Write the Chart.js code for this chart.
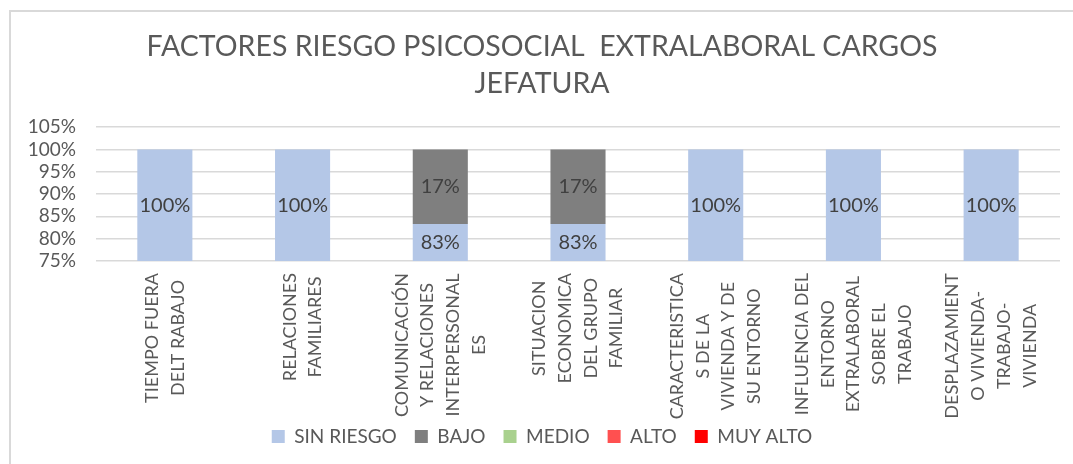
<!DOCTYPE html>
<html>
<head>
<meta charset="utf-8">
<script src="https://cdn.jsdelivr.net/npm/chart.js@4.4.1/dist/chart.umd.min.js"></script>
<style>
  body { margin: 0; background: #fff; overflow: hidden; }
  #frame { position: absolute; left: 9px; top: 10px; width: 1100px; height: 500px; border: 2px solid #d9d9d9; }
  #wrap { position: absolute; left: 0; top: 0; width: 1073px; height: 464px; }
</style>
</head>
<body>
<div id="frame"></div>
<div id="wrap"><canvas id="riesgoChart"></canvas></div>
<script>
// categories (each one already split in lines like the original)
const categories = [
    ['TIEMPO FUERA', 'DELT RABAJO'],
    ['RELACIONES', 'FAMILIARES'],
    ['COMUNICACIÓN', 'Y RELACIONES', 'INTERPERSONAL', 'ES'],
    ['SITUACION', 'ECONOMICA', 'DEL GRUPO', 'FAMILIAR'],
    ['CARACTERISTICA', 'S DE LA', 'VIVIENDA Y DE', 'SU ENTORNO'],
    ['INFLUENCIA DEL', 'ENTORNO', 'EXTRALABORAL', 'SOBRE EL', 'TRABAJO'],
    ['DESPLAZAMIENT', 'O VIVIENDA-', 'TRABAJO-', 'VIVIENDA']
];
const sinRiesgo = [100, 100, 83.3, 83.3, 100, 100, 100];
const bajo      = [0, 0, 16.7, 16.7, 0, 0, 0];
const medio     = [0, 0, 0, 0, 0, 0, 0];
const alto      = [0, 0, 0, 0, 0, 0, 0];
const muyAlto   = [0, 0, 0, 0, 0, 0, 0];
const yMin = 75, yMax = 105, yStep = 5;

const FONT = 'Lato';
const TEXT = '#595959';

// labels inside the bars, centred on the visible part
const barLabels = {
    id: 'barLabels',
    afterDatasetsDraw(chart) {
        const ctx = chart.ctx;
        const area = chart.chartArea;
        ctx.save();
        ctx.font = '20px ' + FONT;
        ctx.fillStyle = '#404040';
        ctx.textAlign = 'center';
        ctx.textBaseline = 'middle';
        chart.data.datasets.forEach((ds, i) => {
            chart.getDatasetMeta(i).data.forEach((bar, j) => {
                const v = ds.data[j];
                if (!v) return;
                const top = Math.max(Math.min(bar.y, bar.base), area.top);
                const bottom = Math.min(Math.max(bar.y, bar.base), area.bottom);
                ctx.fillText(Math.round(v) + '%', bar.x, (top + bottom) / 2);
            });
        });
        ctx.restore();
    }
};

// vertical category labels, lines centred inside each block
const xLabels = {
    id: 'xLabels',
    afterDraw(chart) {
        const ctx = chart.ctx;
        const xScale = chart.scales.x;
        const yTop = chart.chartArea.bottom + 12;
        const lineGap = 25.7;
        ctx.save();
        ctx.font = '18px ' + FONT;
        ctx.fillStyle = TEXT;
        ctx.textAlign = 'center';
        ctx.textBaseline = 'middle';
        categories.forEach((lines, i) => {
            const x = xScale.getPixelForTick(i);
            const maxW = Math.max(...lines.map(l => ctx.measureText(l).width));
            ctx.save();
            ctx.translate(x, yTop);
            ctx.rotate(-Math.PI / 2);
            lines.forEach((l, k) => {
                ctx.fillText(l, -maxW / 2, (k - (lines.length - 1) / 2) * lineGap);
            });
            ctx.restore();
        });
        ctx.restore();
    }
};

document.addEventListener('DOMContentLoaded', function() {
    var ctx = document.getElementById('riesgoChart').getContext('2d');
    var riesgoChart = new Chart(ctx, {
        type: 'bar',
        data: {
            labels: categories,
            datasets: [
                { label: 'SIN RIESGO', data: sinRiesgo, backgroundColor: '#b4c7e7' },
                { label: 'BAJO', data: bajo, backgroundColor: '#7f7f7f' },
                { label: 'MEDIO', data: medio, backgroundColor: '#a9d18e' },
                { label: 'ALTO', data: alto, backgroundColor: '#ff5050' },
                { label: 'MUY ALTO', data: muyAlto, backgroundColor: '#ff0000' }
            ]
        },
        options: {
            responsive: true,
            maintainAspectRatio: false,
            animation: false,
            categoryPercentage: 1,
            barPercentage: 0.4,
            layout: { padding: { left: 24, right: 13, top: 0, bottom: 8 } },
            plugins: {
                title: {
                    display: true,
                    text: ['FACTORES RIESGO PSICOSOCIAL  EXTRALABORAL CARGOS', 'JEFATURA'],
                    color: TEXT,
                    font: { family: FONT, size: 28.5, weight: 'normal', lineHeight: 1.3 },
                    padding: { top: 28.5, bottom: 24.5 }
                },
                legend: {
                    position: 'bottom',
                    labels: {
                        color: TEXT,
                        font: { family: FONT, size: 19 },
                        boxWidth: 13,
                        boxHeight: 13,
                        padding: 18
                    }
                },
                tooltip: { enabled: false }
            },
            scales: {
                x: {
                    stacked: true,
                    grid: { display: false },
                    border: { display: false },
                    ticks: { display: false },
                    afterFit: function(scale) { scale.height = 148; }
                },
                y: {
                    stacked: true,
                    min: yMin,
                    max: yMax,
                    grid: { color: '#d9d9d9', lineWidth: 1.5, drawTicks: false },
                    border: { display: false },
                    ticks: {
                        stepSize: yStep,
                        autoSkip: false,
                        padding: 20,
                        color: TEXT,
                        font: { family: FONT, size: 19 },
                        callback: v => v + '%'
                    },
                    afterFit: function(scale) { scale.width = 72; }
                }
            }
        },
        plugins: [barLabels, xLabels]
    });
});
</script>
</body>
</html>
